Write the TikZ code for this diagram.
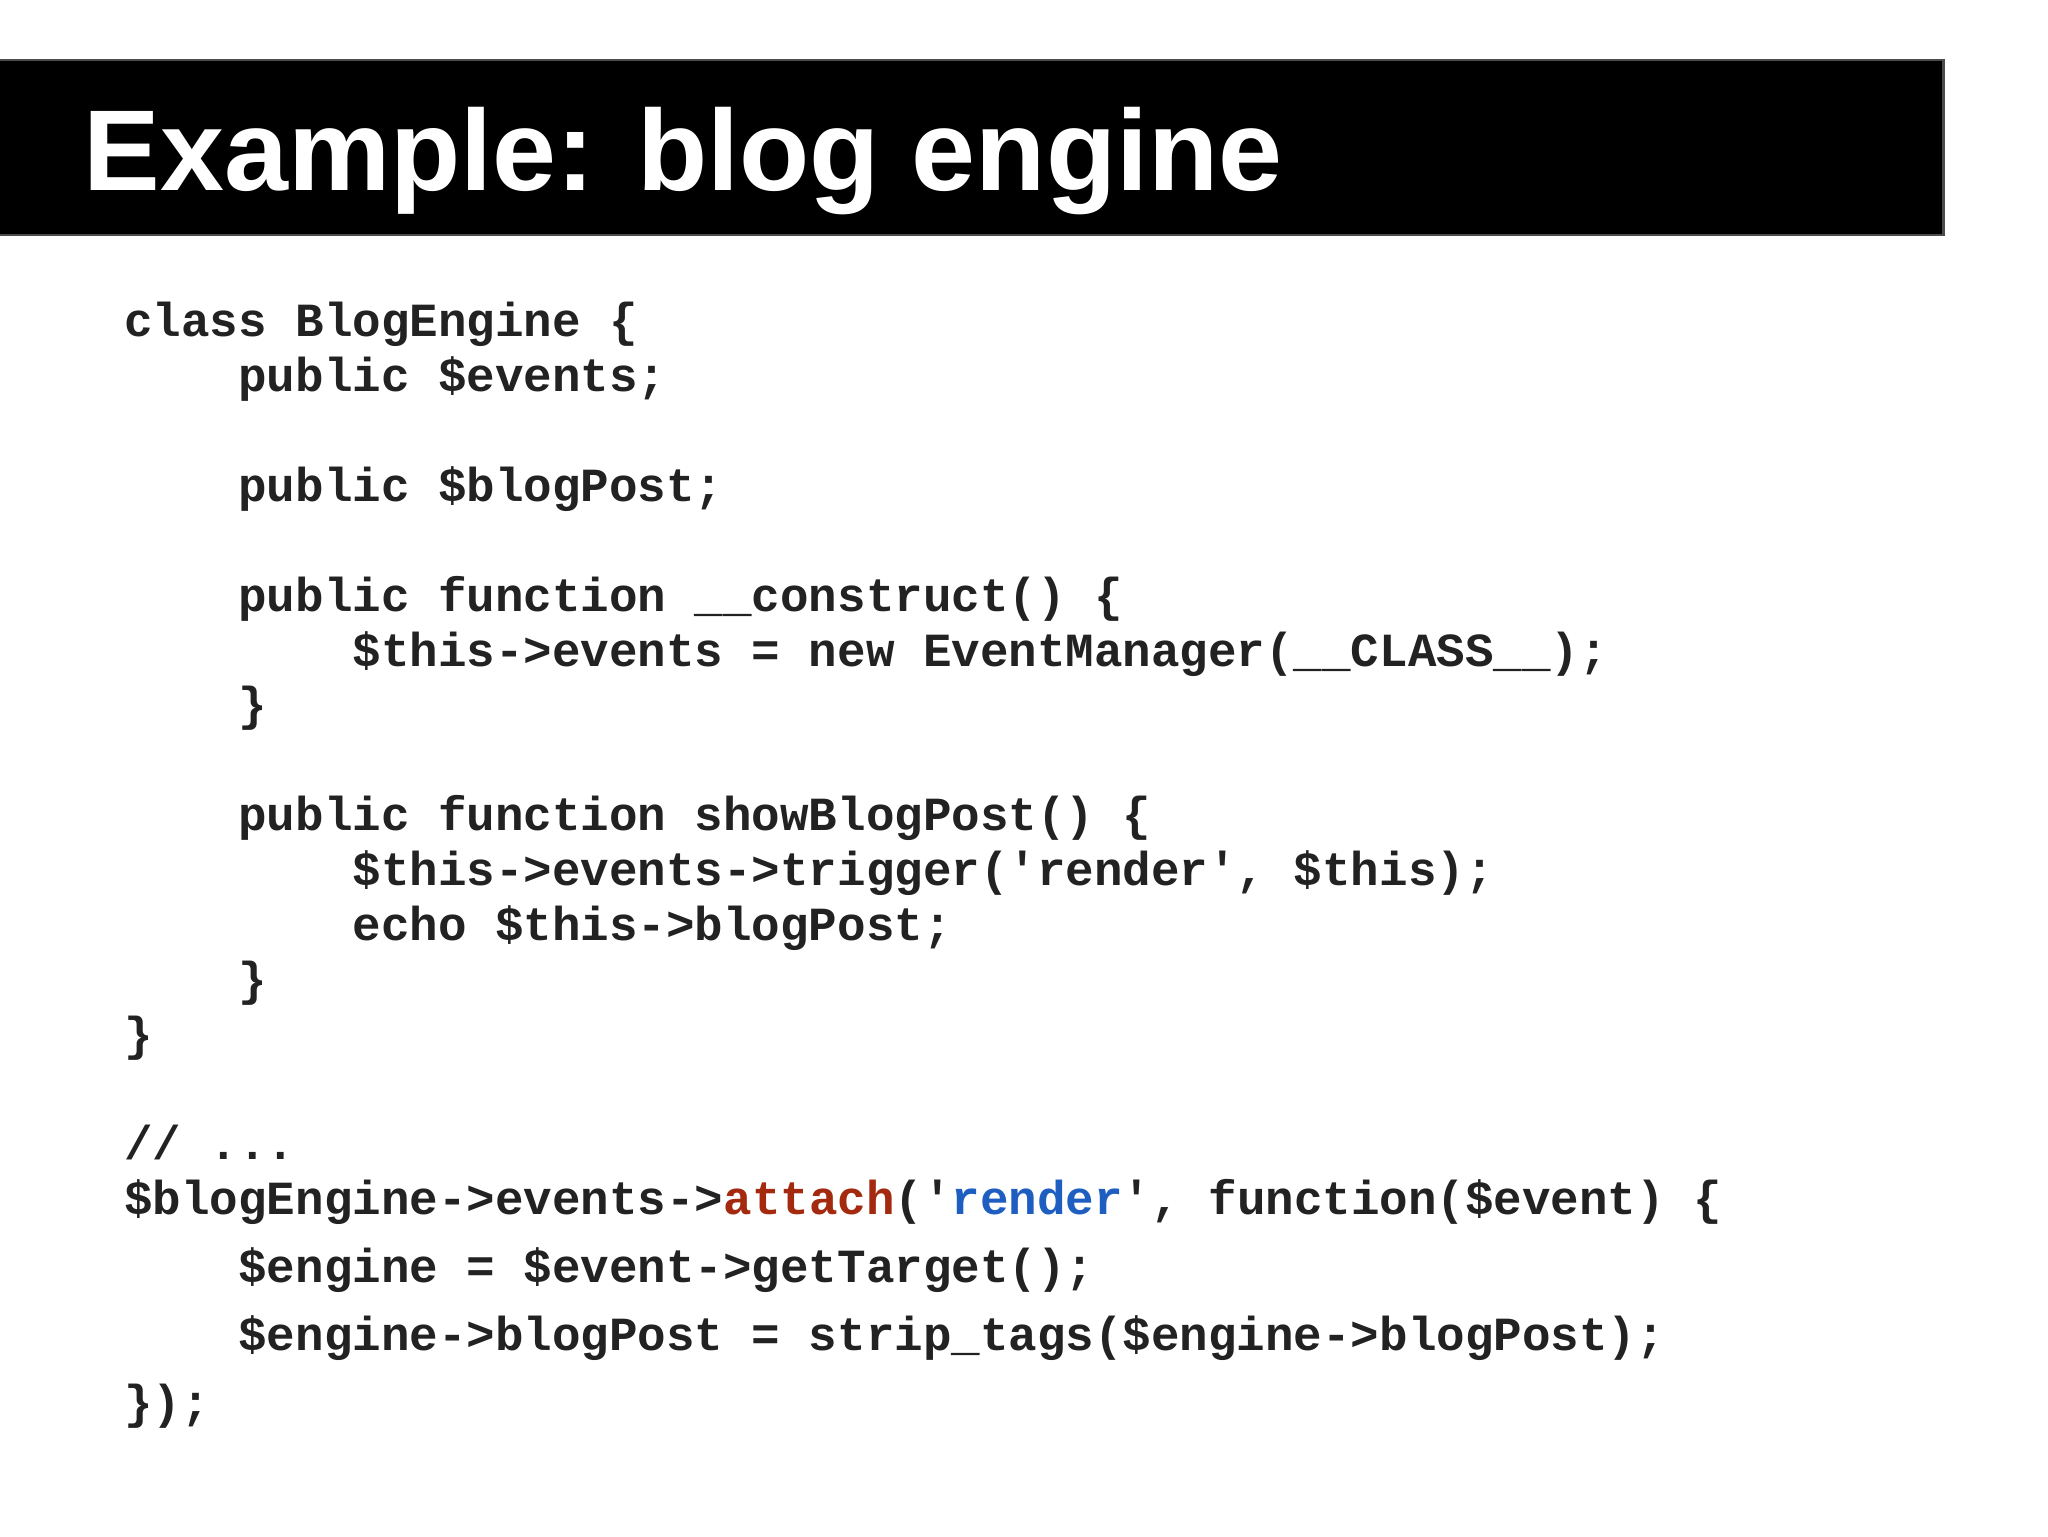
\documentclass[tikz,border=0pt]{standalone}
\usepackage{fontspec}
\setmainfont{Liberation Sans}
\setmonofont{Liberation Mono}
\definecolor{codec}{HTML}{222222}
\definecolor{attc}{HTML}{A3290F}
\definecolor{renc}{HTML}{1E5EC0}
\tikzset{cl/.style={anchor=base west,inner sep=0,font=\fontsize{36.4}{40}\ttfamily\bfseries,text=codec}}
\begin{document}
\begin{tikzpicture}[x=1pt,y=-1pt]
\useasboundingbox (0,0) rectangle (1568,1176);
\fill[white] (0,0) rectangle (1568,1176);
\draw[fill=black,draw=black!70,line width=2] (-2,46) rectangle (1488,180);
\node[anchor=base west,inner sep=0,text=white,font=\fontsize{88}{90}\selectfont\bfseries] (title) at (64,146) {Example: blog engine};
\def\cw{21.84}
\node[cl] (l1) at (95,258) {class BlogEngine \{};
\node[cl] (l2) at (95+4*\cw,300) {public \$events;};
\node[cl] (l3) at (95+4*\cw,384) {public \$blogPost;};
\node[cl] (l4) at (95+4*\cw,468) {public function \_\_construct() \{};
\node[cl] (l5) at (95+8*\cw,510) {\$this->events = new EventManager(\_\_CLASS\_\_);};
\node[cl] (l6) at (95+4*\cw,552) {\}};
\node[cl] (l7) at (95+4*\cw,636) {public function showBlogPost() \{};
\node[cl] (l8) at (95+8*\cw,678) {\$this->events->trigger('render', \$this);};
\node[cl] (l9) at (95+8*\cw,720) {echo \$this->blogPost;};
\node[cl] (l10) at (95+4*\cw,762) {\}};
\node[cl] (l11) at (95,804) {\}};
\node[cl] (l12) at (95,888) {// ...};
\node[cl] (l13) at (95,930) {\$blogEngine->events->\textcolor{attc}{attach}('\textcolor{renc}{render}', function(\$event) \{};
\node[cl] (l14) at (95+4*\cw,982) {\$engine = \$event->getTarget();};
\node[cl] (l15) at (95+4*\cw,1034) {\$engine->blogPost = strip\_tags(\$engine->blogPost);};
\node[cl] (l16) at (95,1086) {\});};
\end{tikzpicture}
\end{document}
